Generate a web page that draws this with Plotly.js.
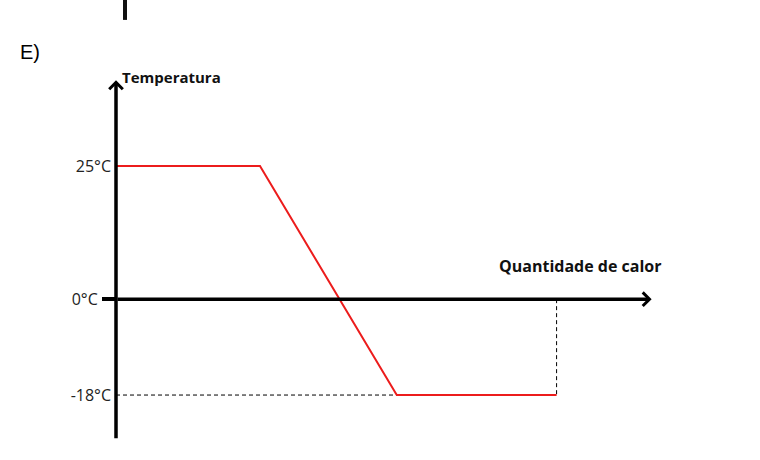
<!DOCTYPE html>
<html>
<head>
<meta charset="utf-8">
<script src="https://cdn.plot.ly/plotly-3.0.1.min.js"></script>
<style>
  html, body { margin: 0; padding: 0; background: #fff; }
  #chart { width: 760px; height: 460px; }
</style>
</head>
<body>
<div id="chart"></div>
<script>
// heat added (arbitrary units) and temperature at the curve's corners
const heat = [0, 10, 19.5, 30.6];
const temperature = [25, 25, -18, -18];

const tempTicks = [25, -18];
const tempTickText = ['25°C', '-18°C'];
const zeroTick = [0];
const zeroTickText = ['0°C'];

const xAxisEnd = 37.2;   // arrow tip of the heat axis
const yAxisTop = 41.1;   // arrow tip of the temperature axis
const yAxisBottom = -26.4;

const tickFont = { family: 'Open Sans, sans-serif', size: 16, color: '#222' };

const traces = [
    // dashed guide from the axis to the start of the lower plateau
    {
        x: [0, heat[2]],
        y: [temperature[2], temperature[2]],
        type: 'scatter',
        mode: 'lines',
        line: { color: '#000', width: 1, dash: '4px,3px' },
        hoverinfo: 'none',
        showlegend: false
    },
    // dashed drop from the heat axis to the end of the curve
    {
        x: [heat[3], heat[3]],
        y: [0, temperature[3]],
        type: 'scatter',
        mode: 'lines',
        line: { color: '#000', width: 1, dash: '4px,3px' },
        hoverinfo: 'none',
        showlegend: false
    },
    {
        x: heat,
        y: temperature,
        type: 'scatter',
        mode: 'lines',
        line: { color: '#ec1c1c', width: 2 },
        hoverinfo: 'none',
        showlegend: false,
        cliponaxis: false
    },
    // invisible trace so the second y axis (0°C tick) is drawn
    {
        x: [0],
        y: [0],
        yaxis: 'y2',
        type: 'scatter',
        mode: 'markers',
        marker: { opacity: 0 },
        hoverinfo: 'none',
        showlegend: false
    }
];

const yRange = [-28.32, 48.66];

const layout = {
    width: 760,
    height: 460,
    margin: { l: 116, r: 60, t: 40, b: 10 },
    paper_bgcolor: '#fff',
    plot_bgcolor: '#fff',
    showlegend: false,
    xaxis: {
        range: [0, 40.56],
        showgrid: false,
        zeroline: false,
        showline: false,
        showticklabels: false,
        ticks: '',
        fixedrange: true
    },
    yaxis: {
        range: yRange,
        showgrid: false,
        zeroline: false,
        showline: false,
        tickmode: 'array',
        tickvals: tempTicks,
        ticktext: tempTickText,
        ticks: '',
        ticklabelstandoff: 4,
        tickfont: tickFont,
        fixedrange: true
    },
    yaxis2: {
        range: yRange,
        overlaying: 'y',
        side: 'left',
        showgrid: false,
        zeroline: false,
        showline: false,
        tickmode: 'array',
        tickvals: zeroTick,
        ticktext: zeroTickText,
        ticks: 'outside',
        ticklen: 13,
        tickwidth: 3.5,
        tickcolor: '#000',
        ticklabelstandoff: 1,
        tickfont: tickFont,
        fixedrange: true
    },
    shapes: [
        // cropped bar left over from the previous figure
        {
            type: 'line', xref: 'paper', yref: 'paper',
            x0: 0.0154, x1: 0.0154, y0: 1.049, y1: 1.0976,
            line: { color: '#111', width: 4 }
        }
    ],
    annotations: [
        // temperature axis with arrow
        {
            x: 0, y: yAxisTop, ax: 0, ay: yAxisBottom,
            xref: 'x', yref: 'y', axref: 'x', ayref: 'y',
            text: '', showarrow: true,
            arrowhead: 4, arrowsize: 0.75, arrowwidth: 3.5, arrowcolor: '#000',
            standoff: 0, startstandoff: 0
        },
        // heat axis with arrow
        {
            x: xAxisEnd, y: 0, ax: 0, ay: 0,
            xref: 'x', yref: 'y', axref: 'x', ayref: 'y',
            text: '', showarrow: true,
            arrowhead: 4, arrowsize: 0.75, arrowwidth: 3.5, arrowcolor: '#000',
            standoff: 0, startstandoff: 0
        },
        {
            x: 0.3, y: yAxisTop + 0.6,
            xref: 'x', yref: 'y',
            text: '<b>Temperatura</b>',
            showarrow: false,
            xanchor: 'left', yanchor: 'middle',
            font: { family: 'Open Sans, sans-serif', size: 15, color: '#111' }
        },
        {
            x: 32.2, y: 6.2,
            xref: 'x', yref: 'y',
            text: '<b>Quantidade de calor</b>',
            showarrow: false,
            xanchor: 'center', yanchor: 'middle',
            font: { family: 'Open Sans, sans-serif', size: 16, color: '#111' }
        },
        {
            x: -0.147, y: 0.971,
            xref: 'paper', yref: 'paper',
            text: 'E)',
            showarrow: false,
            xanchor: 'center', yanchor: 'middle',
            font: { family: 'Liberation Sans, Arial, sans-serif', size: 20, color: '#000' }
        }
    ]
};

Plotly.newPlot('chart', traces, layout, { displayModeBar: false, staticPlot: true });
</script>
</body>
</html>
